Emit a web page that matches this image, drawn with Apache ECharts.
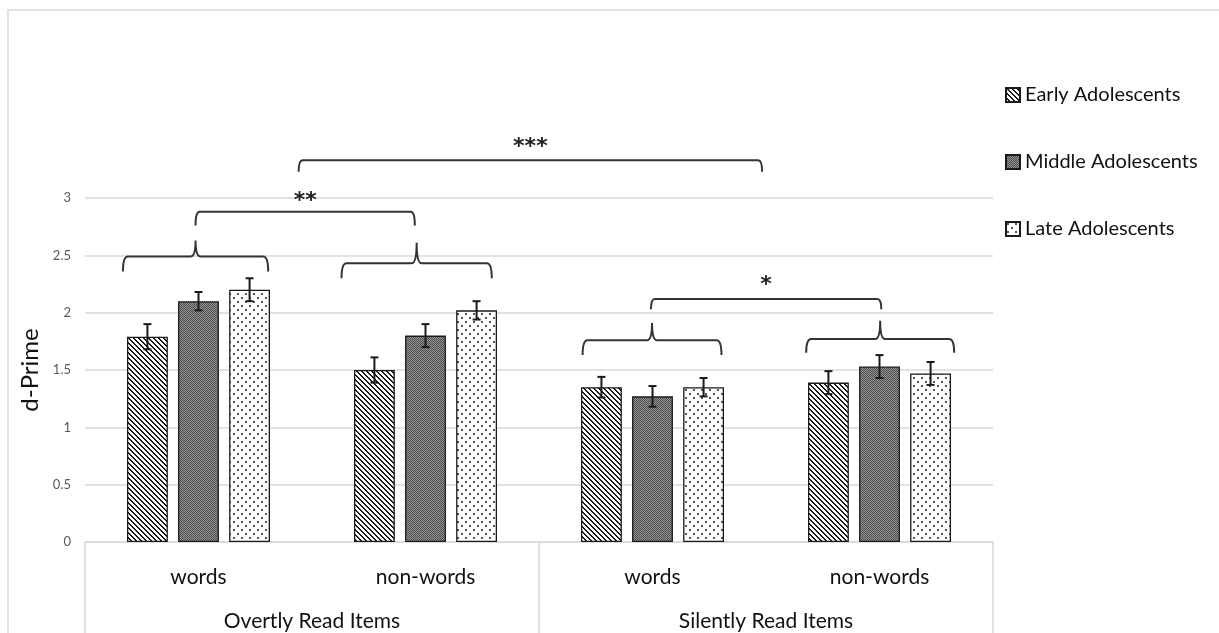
<!DOCTYPE html>
<html><head><meta charset="utf-8">
<script src="https://cdn.jsdelivr.net/npm/echarts@6/dist/echarts.min.js"></script>
<style>html,body{margin:0;padding:0;background:#fff}#c{width:1219px;height:633px}</style>
</head><body><div id="c"></div>
<script>
// ---- data ----
const categories = ['words', 'non-words', 'words', 'non-words'];
const groups = ['Overtly Read Items', 'Silently Read Items'];
const seriesNames = ['Early Adolescents', 'Middle Adolescents', 'Late Adolescents'];
const earlyMeans  = [1.79, 1.50, 1.35, 1.39];
const middleMeans = [2.10, 1.80, 1.27, 1.53];
const lateMeans   = [2.20, 2.02, 1.35, 1.47];
const earlyErr  = [0.11, 0.11, 0.09, 0.10];
const middleErr = [0.08, 0.10, 0.09, 0.10];
const lateErr   = [0.10, 0.08, 0.08, 0.10];
const yMin = 0, yMax = 3, yStep = 0.5;

// ---- annotations (positions in category units from first category, values in d-prime) ----
const braceAnno = [
  {c: -0.013, hw: 0.32,  yH: 2.49, yEnd: 2.36, yTop: 2.63},
  {c: 0.961,  hw: 0.331, yH: 2.43, yEnd: 2.30, yTop: 2.61},
  {c: 1.998,  hw: 0.306, yH: 1.76, yEnd: 1.63, yTop: 1.91},
  {c: 3.003,  hw: 0.326, yH: 1.77, yEnd: 1.65, yTop: 1.93}
];
const sigAnno = [
  {from: -0.013, to: 0.953, yH: 2.88, yEnd: 2.76, yLab: 2.97, text: '**'},
  {from: 0.441,  to: 2.483, yH: 3.33, yEnd: 3.23, yLab: 3.44, text: '***'},
  {from: 1.993,  to: 3.008, yH: 2.12, yEnd: 2.03, yLab: 2.24, text: '*'}
];

// ---- patterns ----
function makePattern(w, h, draw) {
  const cv = document.createElement('canvas');
  cv.width = w; cv.height = h;
  const ctx = cv.getContext('2d');
  draw(ctx);
  return {image: cv, repeat: 'repeat'};
}
const earlyPat = makePattern(5, 5, ctx => {
  ctx.fillStyle = '#fff'; ctx.fillRect(0, 0, 5, 5);
  ctx.fillStyle = '#1a1a1a';
  for (let i = 0; i < 5; i++) { ctx.fillRect(i, i, 1, 1); ctx.fillRect((i + 1) % 5, i, 1, 1); }
});
const middlePat = makePattern(2, 2, ctx => {
  ctx.fillStyle = '#939393'; ctx.fillRect(0, 0, 2, 2);
  ctx.fillStyle = '#4e4e4e'; ctx.fillRect(0, 0, 1, 1); ctx.fillRect(1, 1, 1, 1);
});
const latePat = makePattern(8, 8, ctx => {
  ctx.fillStyle = '#fff'; ctx.fillRect(0, 0, 8, 8);
  ctx.fillStyle = '#555';
  ctx.fillRect(1, 1, 2, 2); ctx.fillRect(5, 5, 2, 2);
});
const patterns = [earlyPat, middlePat, latePat];
const meansAll = [earlyMeans, middleMeans, lateMeans];
const errAll = [earlyErr, middleErr, lateErr];

const BAR_W = 0.18, BAR_GAP = 0.25;
const FONT = 'Lato, "Noto Sans", sans-serif';

function errRender(k) {
  return function (params, api) {
    const c = api.value(0), m = api.value(1), e = api.value(2);
    const band = api.size([1, 0])[0];
    const off = (k - 1) * band * BAR_W * (1 + BAR_GAP);
    const x = api.coord([c, m])[0] + off;
    const top = api.coord([c, m + e])[1], bot = api.coord([c, m - e])[1];
    const cap = 4;
    const st = {stroke: '#1a1a1a', lineWidth: 2};
    return {type: 'group', children: [
      {type: 'line', shape: {x1: x, y1: top, x2: x, y2: bot}, style: st},
      {type: 'line', shape: {x1: x - cap, y1: top, x2: x + cap, y2: top}, style: st},
      {type: 'line', shape: {x1: x - cap, y1: bot, x2: x + cap, y2: bot}, style: st}
    ]};
  };
}

function braceRender(params, api) {
  const b = braceAnno[params.dataIndex];
  const band = api.size([1, 0])[0];
  const x0c = api.coord([0, b.yH])[0];
  const xc = x0c + b.c * band, xl = xc - b.hw * band, xr = xc + b.hw * band;
  const yH = api.coord([0, b.yH])[1], yE = api.coord([0, b.yEnd])[1], yT = api.coord([0, b.yTop])[1];
  const r = 5;
  const d = `M${xl},${yE} Q${xl},${yH} ${xl + r},${yH} L${xc - r},${yH} Q${xc},${yH} ${xc},${yT} ` +
            `M${xc},${yT} Q${xc},${yH} ${xc + r},${yH} L${xr - r},${yH} Q${xr},${yH} ${xr},${yE}`;
  return {type: 'path', shape: {pathData: d}, style: {stroke: '#333', lineWidth: 2, fill: null}};
}

function sigRender(params, api) {
  const s = sigAnno[params.dataIndex];
  const band = api.size([1, 0])[0];
  const x0c = api.coord([0, s.yH])[0];
  const xl = x0c + s.from * band, xr = x0c + s.to * band;
  const yH = api.coord([0, s.yH])[1], yE = api.coord([0, s.yEnd])[1], yL = api.coord([0, s.yLab])[1];
  const r = 4;
  const d = `M${xl},${yE} Q${xl},${yH} ${xl + r},${yH} L${xr - r},${yH} Q${xr},${yH} ${xr},${yE}`;
  return {type: 'group', children: [
    {type: 'path', shape: {pathData: d}, style: {stroke: '#333', lineWidth: 2, fill: null}},
    {type: 'text', style: {x: (xl + xr) / 2, y: yL, text: s.text, fill: '#222',
      font: 'bold 22px "DejaVu Sans", sans-serif', textAlign: 'center', textVerticalAlign: 'middle'}}
  ]};
}

const series = [];
seriesNames.forEach((n, k) => {
  series.push({
    name: n, type: 'bar', barWidth: (BAR_W * 100) + '%', barGap: (BAR_GAP * 100) + '%',
    data: meansAll[k],
    itemStyle: {color: patterns[k], borderColor: '#1a1a1a', borderWidth: 1.3},
    emphasis: {disabled: true}, z: 2
  });
});
seriesNames.forEach((n, k) => {
  series.push({
    name: n + ' err', type: 'custom', renderItem: errRender(k), clip: false, z: 5,
    encode: {x: 0, y: 1},
    data: meansAll[k].map((m, i) => [i, m, errAll[k][i]]), silent: true
  });
});
series.push({type: 'custom', name: 'braces', renderItem: braceRender, clip: false, z: 6, silent: true,
  encode: {x: 0, y: 1}, data: braceAnno.map(b => [0, b.yH])});
series.push({type: 'custom', name: 'sig', renderItem: sigRender, clip: false, z: 6, silent: true,
  encode: {x: 0, y: 1}, data: sigAnno.map(s => [0, s.yH])});

const chart = echarts.init(document.getElementById('c'), null, {renderer: 'canvas'});
chart.setOption({
  animation: false,
  backgroundColor: '#fff',
  graphic: [{type: 'rect', shape: {x: 8, y: 10, width: 1400, height: 800},
    style: {fill: null, stroke: '#d9d9d9', lineWidth: 1.5}, silent: true, z: -10}],
  grid: {left: 85, right: 226, top: 198, bottom: 91, containLabel: false},
  legend: {
    data: seriesNames, orient: 'vertical', left: 1000, top: 80, itemWidth: 14, itemHeight: 14,
    itemGap: 47, icon: 'rect', selectedMode: false,
    textStyle: {fontSize: 20, color: '#111', fontFamily: FONT, padding: [0, 0, 0, 0]}
  },
  xAxis: [
    {type: 'category', data: categories, position: 'bottom',
      axisLine: {show: true, lineStyle: {color: '#d9d9d9', width: 1.5}},
      axisTick: {show: false},
      axisLabel: {margin: 25, fontSize: 21, color: '#111', fontFamily: FONT, interval: 0}},
    {type: 'category', data: groups, position: 'bottom',
      axisLine: {show: false},
      axisTick: {show: true, length: 92, lineStyle: {color: '#d9d9d9', width: 1.5}},
      axisLabel: {margin: 69, fontSize: 21, color: '#111', fontFamily: FONT, interval: 0}}
  ],
  yAxis: {
    type: 'value', min: yMin, max: yMax, interval: yStep,
    name: 'd-Prime', nameLocation: 'middle', nameGap: 36,
    nameTextStyle: {fontSize: 24, color: '#111', fontFamily: FONT},
    axisLine: {show: false}, axisTick: {show: false},
    axisLabel: {margin: 14, fontSize: 13, color: '#595959', fontFamily: FONT},
    splitLine: {lineStyle: {color: '#d9d9d9', width: 1.5}}
  },
  series: series
});
</script></body></html>
